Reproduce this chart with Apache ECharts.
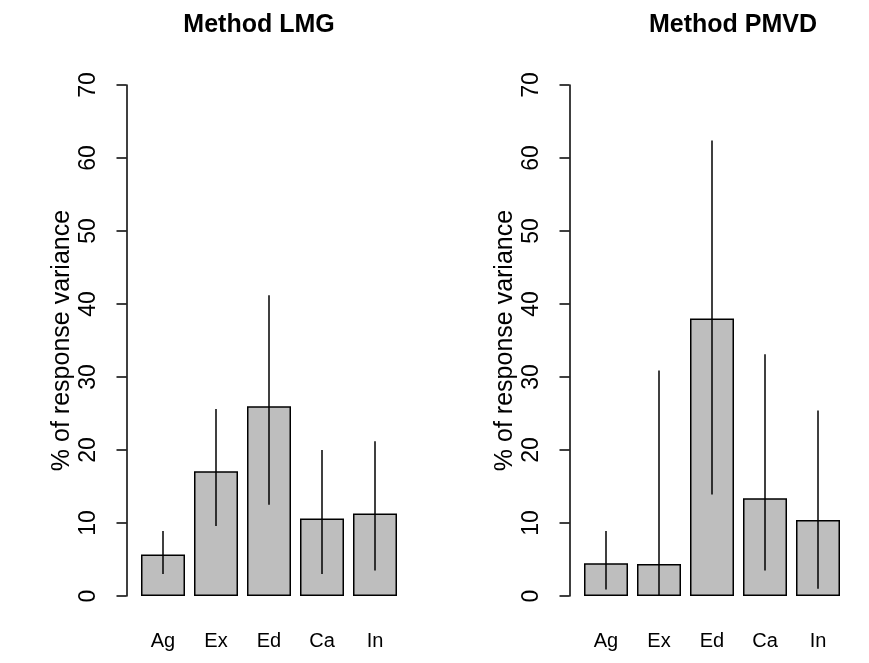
<!DOCTYPE html>
<html>
<head>
<meta charset="utf-8">
<script src="https://cdn.jsdelivr.net/npm/echarts@6/dist/echarts.min.js"></script>
<style>
  html, body { margin: 0; padding: 0; background: #fff; }
  #chart { width: 869px; height: 663px; }
</style>
</head>
<body>
<div id="chart"></div>
<script>
  // 变量名
  var categories = ['Ag', 'Ex', 'Ed', 'Ca', 'In'];
  var yTicks = [0, 10, 20, 30, 40, 50, 60, 70];

  // Method LMG
  var lmgValues = [5.7, 17.1, 26.0, 10.6, 11.3];
  var lmgLower = [3.0, 9.6, 12.5, 3.0, 3.5];
  var lmgUpper = [8.9, 25.6, 41.2, 20.0, 21.2];

  // Method PMVD
  var pmvdValues = [4.5, 4.4, 38.0, 13.4, 10.4];
  var pmvdLower = [0.9, 0.0, 13.9, 3.5, 1.0];
  var pmvdUpper = [8.9, 30.9, 62.4, 33.1, 25.4];

  var font = 'Liberation Sans, Arial, Helvetica, sans-serif';

  function errorBars(lower, upper) {
    return lower.map(function (lo, i) { return [i, lo, upper[i]]; });
  }

  function renderError(params, api) {
    var p1 = api.coord([api.value(0), api.value(1)]);
    var p2 = api.coord([api.value(0), api.value(2)]);
    return {
      type: 'line',
      shape: { x1: p1[0], y1: p1[1], x2: p2[0], y2: p2[1] },
      style: { stroke: '#000', lineWidth: 1.5 }
    };
  }

  function xAxisFor(gridIndex) {
    return {
      type: 'category',
      gridIndex: gridIndex,
      data: categories,
      axisLine: { show: false },
      axisTick: { show: false },
      axisLabel: { color: '#000', fontSize: 20, fontFamily: font, margin: 35 }
    };
  }

  function yAxisFor(gridIndex) {
    return {
      type: 'value',
      gridIndex: gridIndex,
      min: 0,
      max: yTicks[yTicks.length - 1],
      interval: 10,
      offset: 10,
      name: '% of response variance',
      nameLocation: 'middle',
      nameRotate: 90,
      nameGap: 52,
      nameTextStyle: { color: '#000', fontSize: 25, fontFamily: font },
      splitLine: { show: false },
      axisLine: { show: true, lineStyle: { color: '#000', width: 1.5 } },
      axisTick: { show: true, length: 10, lineStyle: { color: '#000', width: 1.5 } },
      axisLabel: { color: '#000', fontSize: 23, fontFamily: font, rotate: 90, margin: 26 }
    };
  }

  var barStyle = { color: '#bebebe', borderColor: '#000', borderWidth: 1.5 };
  var titleStyle = { fontSize: 25, fontWeight: 'bold', color: '#000', fontFamily: font };

  var chart = echarts.init(document.getElementById('chart'), null, { renderer: 'canvas' });
  chart.setOption({
    animation: false,
    backgroundColor: '#fff',
    title: [
      { text: 'Method LMG', left: 254, top: 8, textAlign: 'center', textStyle: titleStyle },
      { text: 'Method PMVD', left: 728, top: 8, textAlign: 'center', textStyle: titleStyle }
    ],
    grid: [
      { left: 136.5, top: 85, width: 265, height: 511 },
      { left: 579.5, top: 85, width: 265, height: 511 }
    ],
    xAxis: [xAxisFor(0), xAxisFor(1)],
    yAxis: [yAxisFor(0), yAxisFor(1)],
    series: [
      { type: 'bar', xAxisIndex: 0, yAxisIndex: 0, data: lmgValues, barWidth: 44, itemStyle: barStyle },
      { type: 'custom', xAxisIndex: 0, yAxisIndex: 0, data: errorBars(lmgLower, lmgUpper),
        renderItem: renderError, z: 5 },
      { type: 'bar', xAxisIndex: 1, yAxisIndex: 1, data: pmvdValues, barWidth: 44, itemStyle: barStyle },
      { type: 'custom', xAxisIndex: 1, yAxisIndex: 1, data: errorBars(pmvdLower, pmvdUpper),
        renderItem: renderError, z: 5 }
    ]
  });
</script>
</body>
</html>
